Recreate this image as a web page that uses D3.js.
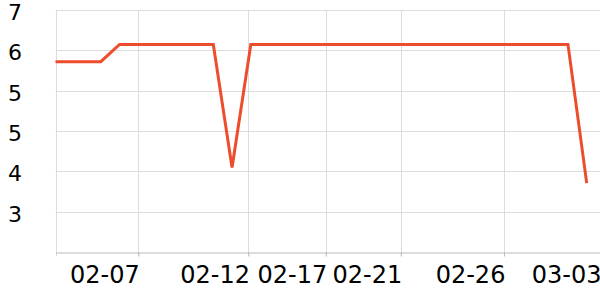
<!DOCTYPE html>
<html>
<head>
<meta charset="utf-8">
<script src="https://cdn.jsdelivr.net/npm/d3@7"></script>
<style>
  body { margin: 0; background: #fff; }
  svg { display: block; }
</style>
</head>
<body>
<div id="chart"></div>
<script>
// sample times and prices
let dates = ["2025-02-02 14:00", "2025-02-05 00:00", "2025-02-06 00:00", "2025-02-11 00:00",
             "2025-02-12 00:00", "2025-02-13 00:00", "2025-03-01 22:00", "2025-03-02 22:00"];
let values = [5.79, 5.79, 6.11, 6.11, 3.82, 6.11, 6.11, 3.53];

let xDomain = ["2025-02-02 14:00", "2025-03-03 15:00"];
let xTicks = ["2025-02-07 00:00", "2025-02-12 21:00", "2025-02-17 00:00",
              "2025-02-21 00:00", "2025-02-26 12:00", "2025-03-03 15:00"];
let yDomain = [2.25, 6.75];
let yTicks = [6.75, 6, 5.25, 4.5, 3.75, 3];

function drawLine(dom, w, h) {
  let parse = d3.timeParse("%Y-%m-%d %H:%M");
  let margin = {top: 10, right: 0, bottom: 48, left: 55.5};
  let font = "DejaVu Sans, sans-serif";

  let svg = d3.select(dom).append("svg").attr("width", w).attr("height", h);

  let x = d3.scaleTime()
    .domain(xDomain.map(parse))
    .range([margin.left, w - margin.right]);

  let y = d3.scaleLinear()
    .domain(yDomain)
    .range([h - margin.bottom, margin.top]);

  // horizontal grid
  svg.append("g")
    .selectAll("line")
    .data(yTicks)
    .enter().append("line")
    .attr("x1", margin.left).attr("x2", w - margin.right)
    .attr("y1", (d) => Math.round(y(d)) + 0.5)
    .attr("y2", (d) => Math.round(y(d)) + 0.5)
    .attr("stroke", "#dddddd");

  // vertical grid + left edge
  let vx = [x.domain()[0]].concat(xTicks.map(parse));
  svg.append("g")
    .selectAll("line")
    .data(vx)
    .enter().append("line")
    .attr("x1", (d) => Math.round(x(d)) + 0.5)
    .attr("x2", (d) => Math.round(x(d)) + 0.5)
    .attr("y1", margin.top)
    .attr("y2", h - margin.bottom + 4)
    .attr("stroke", "#dddddd");

  // x axis
  let xAxis = svg.append("g")
    .attr("transform", `translate(0,${Math.round(h - margin.bottom) + 0.5})`)
    .call(d3.axisBottom(x)
      .tickValues(xTicks.map(parse))
      .tickFormat(d3.timeFormat("%m-%d"))
      .tickSize(4)
      .tickSizeOuter(0))
    .attr("font-family", font);
  xAxis.select(".domain").attr("stroke", "#bbbbbb");
  xAxis.selectAll(".tick line").attr("stroke", "#bbbbbb");
  xAxis.selectAll(".tick text")
    .attr("fill", "#000")
    .attr("font-size", "24px")
    .attr("text-anchor", "end")
    .attr("x", 1)
    .attr("y", 30)
    .attr("dy", 0);

  // y labels
  let yAxis = svg.append("g")
    .attr("transform", "translate(22,0)")
    .call(d3.axisLeft(y)
      .tickValues(yTicks)
      .tickFormat(d3.format(".0f"))
      .tickSize(0)
      .tickPadding(0))
    .attr("font-family", font);
  yAxis.select(".domain").remove();
  yAxis.selectAll(".tick text")
    .attr("fill", "#000")
    .attr("font-size", "22px")
    .attr("dy", "0.43em");

  let line = d3.line()
    .x((d, i) => x(parse(dates[i])))
    .y((d) => y(d));

  svg.append("path")
    .datum(values)
    .attr("fill", "none")
    .attr("stroke", "#ee4d2d")
    .attr("stroke-width", 3)
    .attr("stroke-linejoin", "miter")
    .attr("d", line);
}

drawLine("#chart", 600, 300);
</script>
</body>
</html>
